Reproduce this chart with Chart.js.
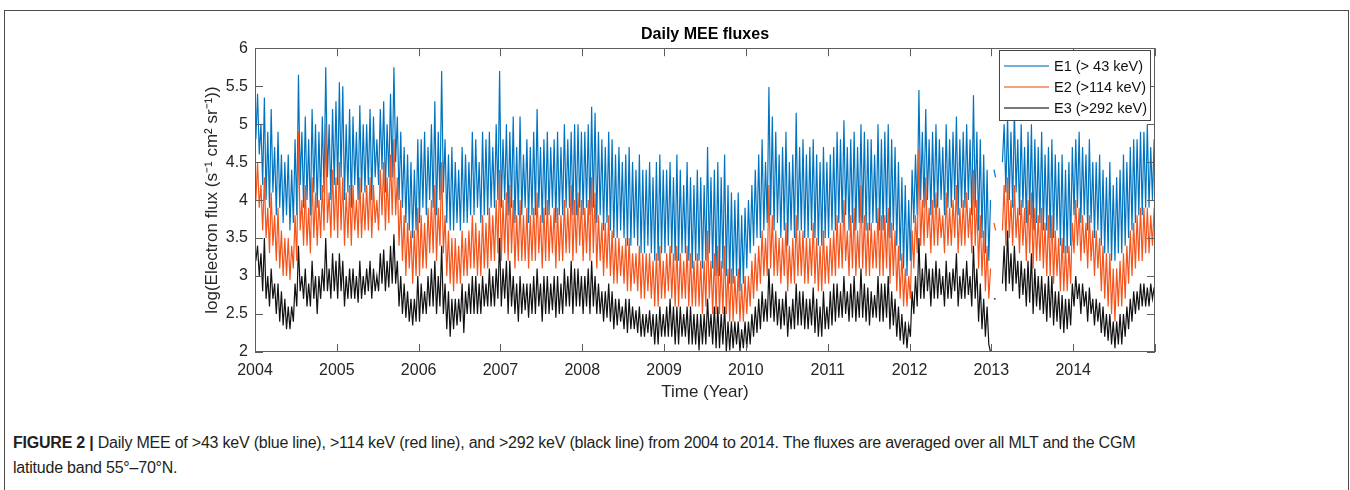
<!DOCTYPE html>
<html>
<head>
<meta charset="utf-8">
<script src="https://cdn.jsdelivr.net/npm/chart.js@4.4.1/dist/chart.umd.min.js"></script>
<style>
  body { margin: 0; background: #fff; width: 1350px; height: 490px; overflow: hidden; position: relative; }
  #frame { position: absolute; left: 4px; top: 10px; width: 1343px; height: 520px; border: 1.5px solid #4d4d4d; }
  #chart { position: absolute; left: 0; top: 0; }
  #caption { position: absolute; left: 13px; top: 430px; font-family: "Liberation Sans", Arial, sans-serif;
             font-size: 16px; letter-spacing: -0.22px; line-height: 25px; color: #231f20; white-space: nowrap; }
  #caption b { font-weight: bold; }
</style>
</head>
<body>
<div id="frame"></div>
<canvas id="chart" width="1350" height="420"></canvas>
<div id="caption"><b>FIGURE 2 |</b> Daily MEE of &gt;43 keV (blue line), &gt;114 keV (red line), and &gt;292 keV (black line) from 2004 to 2014. The fluxes are averaged over all MLT and the CGM<br>latitude band 55°–70°N.</div>
<script>
// 每年 48 個取樣點 (約每週一點)，數值讀自原圖
const startYear = 2004;
const samplesPerYear = 48;
const yearTicks = [2004, 2005, 2006, 2007, 2008, 2009, 2010, 2011, 2012, 2013, 2014];
const seriesLabels = ['E1 (> 43 keV)', 'E2 (>114 keV)', 'E3 (>292 keV)'];

const e1Flux = [
  /* 2004 */ 4.8,5.4,4.6,5.0, 4.2,5.35,4.0,4.9, 3.9,5.2,4.1,4.7, 3.8,4.9,3.9,4.6, 3.7,4.5,3.8,4.6, 3.6,4.4,3.7,4.8, 3.8,5.65,4.2,4.9, 3.9,5.1,4.0,4.8, 3.8,5.2,4.1,5.0, 3.9,4.9,4.0,5.1, 4.1,5.75,4.3,5.0, 4.0,5.2,4.2,5.3,
  /* 2005 */ 4.2,5.55,4.3,5.5, 4.0,5.0,4.1,5.2, 3.9,5.1,4.2,4.9, 4.0,5.25,4.1,5.0, 4.1,5.0,4.2,5.2, 4.0,5.1,4.3,4.8, 4.2,5.2,4.4,5.3, 4.1,5.0,4.3,5.4, 4.3,5.75,4.5,5.1, 4.0,4.9,3.9,4.7, 3.7,4.6,3.6,4.5, 3.5,4.4,3.6,4.8,
  /* 2006 */ 3.7,4.8,3.9,4.9, 3.8,4.7,4.0,5.0, 3.9,5.3,3.8,4.9, 4.0,5.7,4.1,4.8, 3.7,4.6,3.6,4.7, 3.6,4.5,3.7,4.4, 3.6,4.7,3.7,4.6, 3.7,4.5,3.8,4.9, 3.8,4.8,3.9,4.5, 3.7,4.9,3.8,4.8, 3.8,4.9,3.9,4.7, 3.9,5.0,4.0,5.7,
  /* 2007 */ 3.9,4.8,4.0,5.0, 3.8,4.9,3.9,5.1, 3.7,4.7,3.8,5.1, 3.8,4.6,3.9,4.8, 3.7,4.7,3.8,4.9, 3.8,5.2,3.9,4.7, 3.7,4.8,3.8,4.9, 3.8,4.7,3.9,4.8, 3.7,4.9,3.8,4.7, 3.8,5.0,3.9,4.8, 3.9,4.9,3.8,5.0, 3.8,5.0,3.9,4.9,
  /* 2008 */ 3.8,4.9,3.9,5.0, 3.8,5.23,3.9,5.15, 3.7,4.9,3.8,4.8, 3.6,4.7,3.7,4.9, 3.6,4.8,3.5,4.6, 3.5,4.7,3.6,4.5, 3.5,4.6,3.4,4.7, 3.4,4.5,3.5,4.4, 3.4,4.6,3.3,4.4, 3.3,4.4,3.4,4.5, 3.3,4.3,3.2,4.5, 3.2,4.6,3.3,4.4,
  /* 2009 */ 3.3,4.4,3.4,4.5, 3.3,4.3,3.2,4.6, 3.2,4.4,3.3,4.2, 3.3,4.5,3.2,4.3, 3.1,4.2,3.2,4.4, 3.2,4.3,3.1,4.2, 3.2,4.7,3.3,4.3, 3.1,4.4,3.0,4.5, 3.0,4.3,3.1,4.6, 3.0,4.2,2.9,4.1, 2.9,4.0,3.0,4.1, 2.8,3.8,2.9,3.9,
  /* 2010 */ 3.1,4.0,3.3,4.2, 3.4,4.4,3.5,4.6, 3.5,4.8,3.6,4.5, 3.7,5.49,3.8,5.1, 3.6,4.9,3.7,4.6, 3.5,4.7,3.6,4.9, 3.4,4.5,3.6,4.6, 3.5,5.15,3.6,4.7, 3.6,4.8,3.5,4.6, 3.5,4.7,3.6,4.8, 3.5,4.6,3.4,4.5, 3.4,4.7,3.5,4.5,
  /* 2011 */ 3.5,4.6,3.6,4.7, 3.6,4.9,3.7,4.8, 3.7,5.05,3.8,4.7, 3.6,4.8,3.7,4.9, 3.6,4.7,3.7,5.0, 3.7,4.9,3.6,4.8, 3.6,4.8,3.7,4.6, 3.7,5.0,3.6,4.8, 3.6,4.9,3.7,5.0, 3.5,4.8,3.6,4.7, 3.4,4.5,3.2,4.3, 3.1,4.2,3.0,4.0,
  /* 2012 */ 3.2,4.4,3.7,4.6, 3.8,5.45,4.0,4.9, 3.9,5.2,4.0,4.8, 3.8,4.9,3.9,5.0, 3.9,4.8,4.0,4.7, 3.8,5.0,3.9,4.8, 3.9,4.9,4.0,5.1, 3.8,4.8,3.9,4.9, 3.9,5.0,4.0,4.8, 3.8,5.38,3.9,4.9, 3.6,4.8,3.5,4.6, 3.3,4.4,3.2,4.0,
  /* 2013 */ null,4.4,4.3,null, null,null,4.5,5.0, 4.1,5.1,4.0,4.9, 3.9,5.2,4.1,4.8, 3.8,5.0,3.9,4.7, 3.7,4.9,3.8,5.0, 3.6,4.8,3.7,4.7, 3.7,4.9,3.6,4.6, 3.6,4.7,3.5,4.8, 3.5,4.6,3.6,4.5, 3.4,4.6,3.3,4.4, 3.3,4.5,3.4,4.7,
  /* 2014 */ 3.8,4.8,3.9,4.9, 3.7,4.7,3.8,4.6, 3.6,4.8,3.7,4.5, 3.5,4.5,3.6,4.6, 3.4,4.4,3.3,4.3, 3.3,4.5,3.2,4.2, 3.2,4.3,3.3,4.4, 3.3,4.6,3.4,4.5, 3.5,4.7,3.6,4.8, 3.7,4.8,3.8,4.9, 3.8,4.9,3.9,5.0, 3.9,4.7,4.0,4.8
];

const e2Flux = [
  /* 2004 */ 4.0,4.5,3.9,4.2, 3.6,4.3,3.5,3.9, 3.3,4.1,3.4,3.8, 3.2,3.9,3.1,3.6, 3.0,3.5,3.0,3.5, 2.95,3.4,3.1,3.8, 3.2,4.9,3.6,4.0, 3.4,4.2,3.4,3.9, 3.3,4.3,3.5,4.1, 3.4,4.0,3.5,4.2, 3.6,5.0,3.7,4.1, 3.5,4.4,3.6,4.3,
  /* 2005 */ 3.5,4.5,3.6,4.3, 3.4,4.1,3.5,4.2, 3.4,4.2,3.6,4.0, 3.5,4.3,3.5,4.1, 3.6,4.2,3.6,4.3, 3.5,4.2,3.7,4.0, 3.6,4.4,3.8,4.5, 3.6,4.3,3.7,4.6, 3.8,4.8,3.8,4.3, 3.4,4.0,3.2,3.8, 3.0,3.7,3.1,3.6, 2.9,3.6,3.0,3.9,
  /* 2006 */ 3.0,3.8,3.1,3.7, 3.1,3.9,3.3,4.0, 3.3,4.2,3.2,3.9, 3.4,4.5,3.3,3.8, 3.0,3.6,2.9,3.5, 2.8,3.5,2.9,3.4, 2.9,3.6,3.0,3.5, 3.0,3.6,3.1,3.8, 3.1,3.7,3.0,3.6, 3.0,3.8,3.1,3.7, 3.1,3.9,3.2,3.8, 3.2,4.0,3.3,4.4,
  /* 2007 */ 3.2,4.0,3.3,4.1, 3.2,4.2,3.3,4.0, 3.1,3.8,3.2,4.0, 3.2,3.8,3.2,3.9, 3.1,3.8,3.2,3.9, 3.2,4.1,3.3,3.8, 3.1,3.9,3.2,4.0, 3.2,3.8,3.3,3.9, 3.1,3.9,3.2,3.8, 3.2,4.0,3.3,3.9, 3.3,4.2,3.2,4.0, 3.3,4.1,3.4,4.0,
  /* 2008 */ 3.2,3.9,3.3,4.0, 3.2,4.3,3.3,4.1, 3.1,3.8,3.2,3.7, 3.0,3.7,3.1,3.8, 3.0,3.6,2.9,3.5, 2.9,3.5,3.0,3.4, 2.9,3.5,2.8,3.5, 2.8,3.3,2.9,3.3, 2.8,3.4,2.7,3.3, 2.7,3.3,2.8,3.3, 2.7,3.2,2.6,3.3, 2.6,3.4,2.7,3.2,
  /* 2009 */ 2.7,3.3,2.8,3.4, 2.7,3.3,2.6,3.4, 2.6,3.3,2.7,3.2, 2.7,3.4,2.6,3.3, 2.6,3.2,2.6,3.3, 2.6,3.2,2.5,3.2, 2.6,3.6,2.7,3.2, 2.5,3.3,2.5,3.4, 2.5,3.2,2.5,3.4, 2.5,3.1,2.4,3.1, 2.4,3.0,2.5,3.1, 2.4,2.9,2.4,3.0,
  /* 2010 */ 2.5,3.0,2.6,3.2, 2.7,3.3,2.8,3.4, 2.9,3.6,3.0,3.5, 3.0,4.2,3.1,3.8, 3.0,3.6,3.0,3.5, 2.9,3.5,3.0,3.7, 2.8,3.4,2.9,3.5, 2.9,3.8,3.0,3.6, 3.0,3.6,2.9,3.5, 2.9,3.5,3.0,3.7, 2.9,3.5,2.8,3.4, 2.8,3.6,2.9,3.4,
  /* 2011 */ 2.9,3.5,3.0,3.6, 3.0,3.8,3.1,3.7, 3.1,4.0,3.2,3.6, 3.0,3.8,3.1,3.9, 3.0,3.6,3.1,4.2, 3.1,3.8,3.0,3.7, 3.0,3.7,3.1,3.6, 3.1,3.9,3.0,3.8, 3.0,3.8,3.1,3.9, 2.9,3.7,3.0,3.6, 2.8,3.4,2.7,3.3, 2.6,3.1,2.6,3.0,
  /* 2012 */ 2.7,3.6,3.1,3.8, 3.3,4.66,3.4,4.0, 3.4,4.3,3.5,3.9, 3.3,4.0,3.4,4.1, 3.4,3.9,3.5,3.8, 3.3,4.1,3.4,3.9, 3.4,4.0,3.5,4.2, 3.3,3.9,3.4,4.0, 3.4,4.1,3.5,3.9, 3.3,4.4,3.4,4.0, 3.1,3.8,3.0,3.6, 2.8,3.4,2.7,3.1,
  /* 2013 */ null,3.7,3.6,null, null,null,3.6,4.2, 3.4,4.3,3.5,4.0, 3.4,4.2,3.5,3.9, 3.3,4.0,3.4,3.9, 3.2,4.0,3.3,4.1, 3.1,3.9,3.2,3.8, 3.2,3.9,3.1,3.7, 3.0,3.8,3.0,3.8, 2.9,3.6,3.0,3.5, 2.8,3.5,2.8,3.4, 2.8,3.4,2.9,3.7,
  /* 2014 */ 3.3,4.0,3.4,3.9, 3.2,3.8,3.3,3.7, 3.1,3.8,3.2,3.6, 3.0,3.6,3.1,3.5, 2.8,3.4,2.7,3.3, 2.6,3.3,2.5,3.1, 2.4,3.1,2.6,3.2, 2.6,3.3,2.7,3.4, 2.9,3.6,3.0,3.7, 3.1,3.8,3.2,3.9, 3.2,3.9,3.3,3.9, 3.3,3.8,3.4,3.9
];

const e3Flux = [
  /* 2004 */ 3.2,3.4,3.0,3.3, 2.8,3.5,2.7,3.0, 2.6,3.1,2.7,2.9, 2.5,2.9,2.4,2.8, 2.35,2.7,2.3,2.6, 2.3,2.6,2.4,2.9, 2.6,3.4,2.8,3.0, 2.7,3.1,2.6,2.9, 2.6,3.2,2.7,3.0, 2.5,3.0,2.7,3.1, 2.8,3.5,2.8,3.1, 2.7,3.3,2.8,3.2,
  /* 2005 */ 2.7,3.3,2.8,3.2, 2.6,3.0,2.7,3.1, 2.7,3.1,2.7,3.0, 2.65,3.2,2.7,3.0, 2.75,3.1,2.8,3.2, 2.7,3.1,2.8,3.0, 2.8,3.3,2.9,3.35, 2.8,3.2,2.85,3.4, 2.9,3.55,2.9,3.2, 2.6,3.0,2.5,2.9, 2.45,2.8,2.4,2.7, 2.35,2.7,2.4,3.0,
  /* 2006 */ 2.4,2.9,2.5,2.8, 2.5,3.0,2.6,3.1, 2.6,3.2,2.5,3.0, 2.6,3.4,2.5,2.9, 2.3,2.8,2.2,2.7, 2.3,2.7,2.35,2.7, 2.4,2.9,2.25,2.8, 2.5,2.9,2.5,3.0, 2.5,3.0,2.5,2.9, 2.5,3.0,2.6,2.9, 2.6,3.1,2.6,3.0, 2.6,3.1,2.7,3.5,
  /* 2007 */ 2.6,3.1,2.7,3.2, 2.5,3.2,2.6,3.0, 2.5,2.9,2.4,3.0, 2.5,2.9,2.55,2.9, 2.45,2.9,2.5,3.0, 2.5,3.1,2.6,2.9, 2.4,3.0,2.5,3.0, 2.5,2.9,2.55,3.0, 2.45,3.0,2.5,2.9, 2.5,3.1,2.6,3.0, 2.6,3.2,2.5,3.1, 2.6,3.1,2.6,3.0,
  /* 2008 */ 2.5,3.0,2.6,3.1, 2.5,3.2,2.6,3.0, 2.5,2.9,2.5,2.8, 2.4,2.8,2.45,2.9, 2.4,2.8,2.3,2.7, 2.35,2.7,2.4,2.6, 2.3,2.7,2.25,2.7, 2.3,2.6,2.3,2.55, 2.25,2.6,2.2,2.5, 2.2,2.5,2.25,2.55, 2.2,2.5,2.1,2.5, 2.1,2.6,2.2,2.5,
  /* 2009 */ 2.2,2.6,2.2,2.7, 2.2,2.6,2.1,2.6, 2.1,2.6,2.2,2.5, 2.2,2.6,2.1,2.6, 2.1,2.5,2.1,2.5, 2.02,2.5,2.1,2.5, 2.1,2.7,2.2,2.5, 2.1,2.6,2.05,2.6, 2.05,2.5,2.1,2.6, 2.0,2.4,2.02,2.4, 2.05,2.4,2.1,2.4, 2.0,2.3,2.05,2.4,
  /* 2010 */ 2.05,2.4,2.1,2.5, 2.2,2.6,2.25,2.7, 2.3,2.8,2.4,2.7, 2.4,3.1,2.45,2.9, 2.4,2.8,2.35,2.7, 2.3,2.7,2.35,2.8, 2.2,2.6,2.3,2.7, 2.3,2.9,2.35,2.8, 2.35,2.8,2.3,2.7, 2.3,2.7,2.35,2.85, 2.25,2.7,2.2,2.6, 2.2,2.8,2.3,2.6,
  /* 2011 */ 2.3,2.8,2.35,2.9, 2.4,2.9,2.45,2.8, 2.45,3.0,2.5,2.8, 2.4,2.9,2.45,3.0, 2.4,2.8,2.45,3.1, 2.45,2.9,2.4,2.85, 2.35,2.8,2.45,2.75, 2.45,3.0,2.4,2.9, 2.4,2.9,2.45,3.0, 2.3,2.8,2.35,2.7, 2.2,2.6,2.15,2.5, 2.1,2.4,2.05,2.35,
  /* 2012 */ 2.2,2.8,2.5,3.0, 2.6,3.5,2.7,3.1, 2.7,3.3,2.8,3.1, 2.6,3.1,2.7,3.2, 2.7,3.1,2.75,3.0, 2.6,3.2,2.7,3.05, 2.7,3.1,2.8,3.3, 2.6,3.0,2.7,3.1, 2.7,3.2,2.75,3.0, 2.6,3.4,2.7,3.1, 2.4,2.9,2.3,2.7, 2.2,2.6,2.1,2.0,
  /* 2013 */ null,2.7,2.7,null, null,null,2.9,3.4, 2.8,3.6,2.9,3.3, 2.8,3.4,2.9,3.2, 2.7,3.2,2.75,3.1, 2.6,3.2,2.65,3.3, 2.5,3.1,2.6,3.0, 2.55,3.0,2.5,2.9, 2.4,3.0,2.45,3.0, 2.35,2.8,2.4,2.8, 2.3,2.75,2.25,2.7, 2.3,2.7,2.35,2.9,
  /* 2014 */ 2.6,3.0,2.7,2.9, 2.5,2.9,2.6,2.8, 2.4,2.85,2.5,2.7, 2.35,2.7,2.4,2.65, 2.25,2.6,2.2,2.5, 2.15,2.5,2.1,2.4, 2.05,2.4,2.1,2.5, 2.1,2.5,2.2,2.6, 2.3,2.7,2.4,2.8, 2.5,2.8,2.55,2.9, 2.6,2.9,2.6,2.85, 2.6,2.9,2.7,2.85
];

const seriesColors = ['rgb(0,116,192)', 'rgb(245,84,26)', 'rgb(18,18,18)'];

function toPoints(values) {
  return values.map((v, i) => ({ x: startYear + (i + 0.5) / samplesPerYear, y: v }));
}

const fontFamily = '"Liberation Sans", Arial, sans-serif';
const tickFont = { family: fontFamily, size: 16 };
const titleFont = { family: fontFamily, size: 17 };
const axisColor = '#262626';

// MATLAB 風格的外框、內向刻度與圖例
const matlabFrame = {
  id: 'matlabFrame',
  afterDatasetsDraw(chart) {
    const { ctx, chartArea: a, scales: { x, y } } = chart;
    ctx.save();
    ctx.strokeStyle = '#5e5e5e';
    ctx.lineWidth = 1;
    ctx.strokeRect(Math.round(a.left) + 0.5, Math.round(a.top) + 0.5, Math.round(a.width) - 1, Math.round(a.height) - 1);
    ctx.beginPath();
    x.ticks.forEach(t => {
      const px = Math.round(x.getPixelForValue(t.value)) + 0.5;
      ctx.moveTo(px, a.bottom); ctx.lineTo(px, a.bottom - 8);
      ctx.moveTo(px, a.top); ctx.lineTo(px, a.top + 8);
    });
    y.ticks.forEach(t => {
      const py = Math.round(y.getPixelForValue(t.value)) + 0.5;
      ctx.moveTo(a.left, py); ctx.lineTo(a.left + 8, py);
      ctx.moveTo(a.right, py); ctx.lineTo(a.right - 8, py);
    });
    ctx.stroke();

    // 圖例
    const w = 151, h = 70;
    const bx = Math.round(a.right) - 5 - w, by = Math.round(a.top) + 2;
    ctx.fillStyle = '#fff';
    ctx.fillRect(bx, by, w, h);
    ctx.strokeStyle = '#444';
    ctx.strokeRect(bx + 0.5, by + 0.5, w, h);
    ctx.font = '14.5px ' + fontFamily;
    ctx.textBaseline = 'middle';
    chart.data.datasets.forEach((ds, i) => {
      const ry = by + 16 + i * 21;
      ctx.globalAlpha = 0.75;
      ctx.strokeStyle = ds.borderColor;
      ctx.lineWidth = 1.5;
      ctx.beginPath(); ctx.moveTo(bx + 5, ry); ctx.lineTo(bx + 50, ry); ctx.stroke();
      ctx.globalAlpha = 1;
      ctx.fillStyle = '#111';
      ctx.fillText(ds.label, bx + 55, ry + 1);
    });
    ctx.restore();
  }
};

new Chart(document.getElementById('chart'), {
  type: 'line',
  data: {
    datasets: [e1Flux, e2Flux, e3Flux].map((vals, i) => ({
      label: seriesLabels[i],
      data: toPoints(vals),
      borderColor: seriesColors[i],
      borderWidth: 1.2,
      pointRadius: 0,
      tension: 0,
      spanGaps: false,
      order: 3 - i
    }))
  },
  options: {
    responsive: false,
    animation: false,
    events: [],
    layout: { padding: { left: 193, right: 195, top: 0, bottom: 0 } },
    plugins: {
      legend: { display: false },
      tooltip: { enabled: false },
      title: {
        display: true,
        fullSize: false,
        text: 'Daily MEE fluxes',
        color: '#000',
        font: { family: fontFamily, size: 16, weight: 'bold' },
        padding: { top: 25, bottom: 4 }
      }
    },
    scales: {
      x: {
        type: 'linear',
        min: startYear,
        max: 2015,
        grid: { display: false },
        border: { display: false },
        afterFit: s => { s.height = 68; },
        afterBuildTicks: s => { s.ticks = yearTicks.concat([2015]).map(v => ({ value: v })); },
        ticks: {
          color: axisColor, font: tickFont, padding: 1, maxRotation: 0, autoSkip: false,
          callback: v => (yearTicks.includes(v) ? String(v) : '')
        },
        title: { display: true, text: 'Time (Year)', color: axisColor, font: titleFont, padding: { top: 0, bottom: 17 } }
      },
      y: {
        min: 2,
        max: 6,
        grid: { display: false, drawTicks: false },
        border: { display: false },
        afterFit: s => { s.width = 62; },
        ticks: { stepSize: 0.5, color: axisColor, font: tickFont, padding: 7, callback: v => String(v) },
        title: {
          display: true,
          text: 'log(Electron flux (s⁻¹ cm² sr⁻¹))',
          color: axisColor, font: titleFont, padding: { top: 9, bottom: 0 }
        }
      }
    }
  },
  plugins: [matlabFrame]
});
</script>
</body>
</html>
